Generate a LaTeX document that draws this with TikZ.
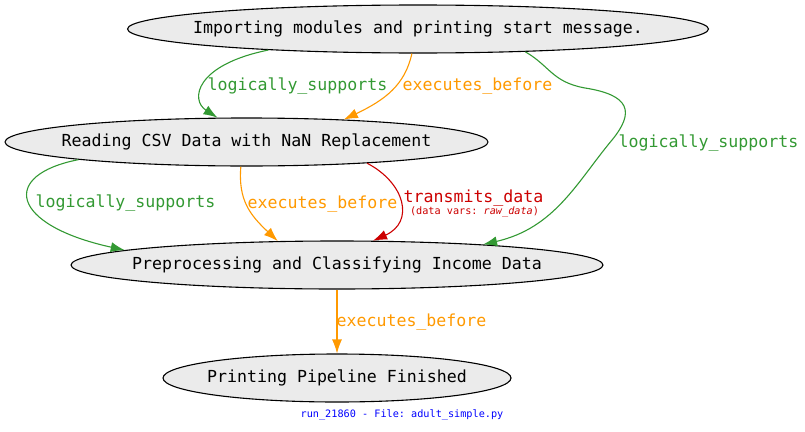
\documentclass[tikz,border=0pt]{standalone}
\usepackage{fontspec}
\setmonofont{DejaVu Sans Mono}
\usepackage{xcolor}
\definecolor{Shade}{HTML}{EBEBEB}
\definecolor{Grass}{HTML}{339933}
\definecolor{Amber}{HTML}{FF9900}
\definecolor{Crimson}{HTML}{CC0000}
\definecolor{Ink}{HTML}{0000FF}
\colorlet{Logic}{Grass}
\colorlet{Order}{Amber}
\colorlet{Flow}{Crimson}
\usepackage{tikz}
\usetikzlibrary{arrows.meta,shapes.geometric}

\begin{document}
\begin{tikzpicture}[x=1pt,y=-1pt,every node/.style={font=\ttfamily\fontsize{16.6}{20}\selectfont},
  stage/.style={ellipse,draw,fill=Shade,line width=1.1pt,inner xsep=-120pt,inner ysep=0pt,minimum height=48pt},
  link/.style={-{Latex[length=14pt,width=10pt]},line width=1.1pt},
  lbl/.style={anchor=base,inner sep=0pt},
  small/.style={font=\ttfamily\fontsize{10.2}{12}\selectfont}]
\useasboundingbox (0,0) rectangle (805,431);
\node[stage,minimum width=581pt] (i) at (418,29) {Importing modules and printing start message.};
\node[stage,minimum width=483pt] (r) at (246.5,142) {Reading CSV Data with NaN Replacement};
\node[stage,minimum width=532pt] (p) at (337,265) {Preprocessing and Classifying Income Data};
\node[stage,minimum width=348pt] (f) at (337,378) {Printing Pipeline Finished};
% edges
\draw[link,Logic] (i.188) .. controls (195,65) and (190,100) .. (r.140.5);
\draw[link,Order] (i.256) .. controls (405,85) and (385,100) .. (r.13.5);
\draw[link,Logic] (i.348.6) .. controls (550,66) and (552,82) .. (585,88)
  .. controls (630,95) and (635,112) .. (612,140)
  .. controls (577,182) and (555,228) .. (p.8.4);
\draw[link,Logic] (r.186) .. controls (0,175) and (10,225) .. (p.176.5);
\draw[link,Order] (r.257) .. controls (238,200) and (250,215) .. (p.158.5);
\draw[link,Flow] (r.350) .. controls (405,183) and (415,222) .. (p.34);
\draw[link,Order] (p.south) -- (f.north);
% labels
\node[lbl,text=Logic] (la) at (297.5,90) {logically\_supports};
\node[lbl,text=Order] (lb) at (477.5,90) {executes\_before};
\node[lbl,text=Logic] (lc) at (708.5,147) {logically\_supports};
\node[lbl,text=Logic] (ld) at (125.5,207) {logically\_supports};
\node[lbl,text=Order] (le) at (322.5,208) {executes\_before};
\node[lbl,text=Flow] (lf) at (473.5,202) {transmits\_data};
\node[lbl,small,text=Flow] (lg) at (474.5,214) {(data vars: {\itshape raw\_data})};
\node[lbl,text=Order] (lh) at (411.5,326) {executes\_before};
\node[lbl,small,text=Ink] (run) at (402,417) {run\_21860 - File: adult\_simple.py};
\end{tikzpicture}
\end{document}
